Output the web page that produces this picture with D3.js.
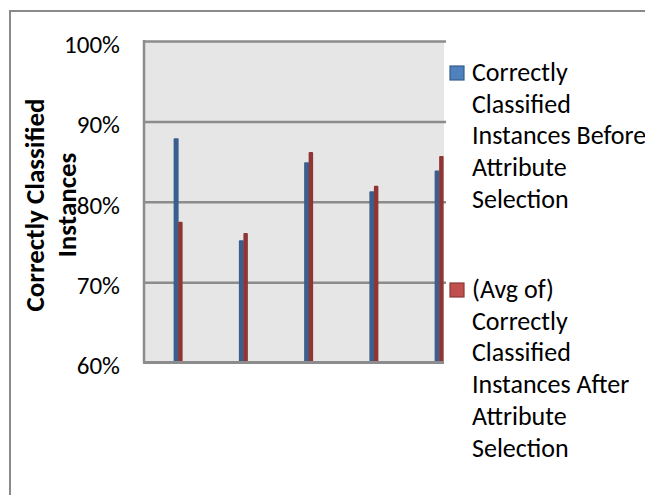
<!DOCTYPE html>
<html>
<head>
<meta charset="utf-8">
<script src="https://cdn.jsdelivr.net/npm/d3@7"></script>
<style>
  html, body { margin: 0; padding: 0; background: #ffffff; }
  svg { display: block; }
  text { font-family: Carlito, Calibri, Lato, sans-serif; fill: #000; }
</style>
</head>
<body>
<svg id="chart" width="645" height="495"></svg>
<script>
// ---- data ----
const categories = ["1", "2", "3", "4", "5"];
const seriesNames = [
  ["Correctly", "Classified", "Instances Before", "Attribute", "Selection"],
  ["(Avg of)", "Correctly", "Classified", "Instances After", "Attribute", "Selection"]
];
const beforeValues = [0.879, 0.752, 0.849, 0.813, 0.839];
const afterValues  = [0.775, 0.761, 0.862, 0.820, 0.857];
const yTicks = [0.6, 0.7, 0.8, 0.9, 1.0];
const yTitle = ["Correctly Classified", "Instances"];

// ---- layout ----
const svg = d3.select("#chart");
const plot = { left: 144, right: 444, top: 41, bottom: 362.5 };
const bandStep = 65.25;

// outer chart border (extends past the picture on right and bottom)
svg.append("rect")
  .attr("x", 10).attr("y", 11)
  .attr("width", 700).attr("height", 600)
  .attr("fill", "none").attr("stroke", "#8a8a8a").attr("stroke-width", 2);

const y = d3.scaleLinear().domain([0.6, 1.0]).range([plot.bottom, plot.top]);
const x = d3.scaleBand().domain(categories)
  .range([plot.left, plot.left + bandStep * categories.length])
  .paddingInner(0).paddingOuter(0);

// plot background
svg.append("rect")
  .attr("x", plot.left).attr("y", plot.top)
  .attr("width", plot.right - plot.left).attr("height", plot.bottom - plot.top)
  .attr("fill", "#e6e6e6");

// gridlines
const grid = svg.append("g")
  .attr("transform", `translate(${plot.left},0)`)
  .call(d3.axisLeft(y).tickValues(yTicks.filter(t => t > 0.6))
    .tickSize(-(plot.right - plot.left + 2)).tickFormat(""));
grid.select(".domain").remove();
grid.selectAll(".tick line").attr("stroke", "#8c8c8c").attr("stroke-width", 2.5);

// left axis line
svg.append("line")
  .attr("x1", plot.left).attr("x2", plot.left)
  .attr("y1", plot.top - 1).attr("y2", plot.bottom)
  .attr("stroke", "#8c8c8c").attr("stroke-width", 2.5);

// tick labels
const yAxis = svg.append("g")
  .attr("transform", `translate(${plot.left},0)`)
  .call(d3.axisLeft(y).tickValues(yTicks).tickSize(0).tickPadding(24)
    .tickFormat(d3.format(".0%")));
yAxis.select(".domain").remove();
yAxis.selectAll("text")
  .attr("dy", "0.45em")
  .style("font-size", "25px")
  .style("font-family", "Carlito, Calibri, Lato, sans-serif")
  .attr("fill", "#000");

// bars
const barW = [5, 4.5];
const barOff = [-3, 1.5];
[beforeValues, afterValues].forEach((vals, si) => {
  const col = si === 0 ? "#3a5f8f" : "#8f3634";
  svg.append("g").selectAll("rect")
    .data(vals)
    .join("rect")
    .attr("x", (d, i) => x(categories[i]) + x.bandwidth() / 2 + barOff[si])
    .attr("y", d => y(d))
    .attr("width", barW[si])
    .attr("height", d => plot.bottom - y(d))
    .attr("rx", 1)
    .attr("fill", col);
});

// bottom axis line
svg.append("line")
  .attr("x1", plot.left - 1).attr("x2", plot.right)
  .attr("y1", plot.bottom).attr("y2", plot.bottom)
  .attr("stroke", "#8c8c8c").attr("stroke-width", 3);

// y title
const titleX = [34, 66.5];
const titleCY = 205;
yTitle.forEach((t, i) => {
  svg.append("text")
    .attr("transform", `translate(${titleX[i]},${titleCY}) rotate(-90)`)
    .attr("text-anchor", "middle")
    .attr("dy", "0.36em")
    .style("font-size", "27px")
    .style("font-weight", "bold")
    .text(t);
});

// legend
const legendX = 450;
const textX = 472;
const lineH = 31.7;
const firstBaseline = [81, 298];
const swatchFill = ["#4f81bd", "#c0504d"];
const swatchStroke = ["#385d8a", "#8c3836"];
seriesNames.forEach((lines, si) => {
  const g = svg.append("g");
  g.append("rect")
    .attr("x", legendX).attr("y", firstBaseline[si] - 15)
    .attr("width", 14).attr("height", 14)
    .attr("fill", swatchFill[si]).attr("stroke", swatchStroke[si]).attr("stroke-width", 1.2);
  lines.forEach((ln, li) => {
    g.append("text")
      .attr("x", textX)
      .attr("y", firstBaseline[si] + li * lineH)
      .style("font-size", "26px")
      .text(ln);
  });
});
</script>
</body>
</html>
